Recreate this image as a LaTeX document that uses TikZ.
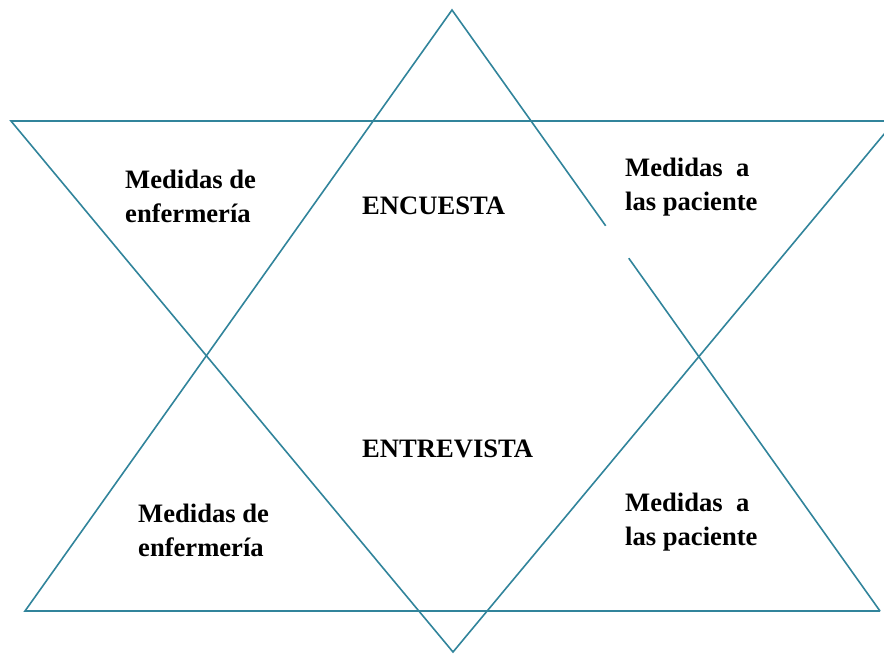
\documentclass[tikz,border=0pt]{standalone}
\usepackage{fontspec}
\setmainfont{Liberation Serif}
\usetikzlibrary{calc}

\definecolor{starline}{HTML}{31849B}

\begin{document}
\begin{tikzpicture}[x=1pt,y=-1pt,
    side/.style={draw=starline,line width=1.6pt},
    label text/.style={anchor=base west,inner sep=0pt,align=left,
        font=\fontsize{26.6}{33.5}\selectfont\bfseries}]
    \clip (0,0) rectangle (884,654);

    % triangle pointing up
    \coordinate (upTop) at (452,10);
    \coordinate (upLeft) at (25,611);
    \coordinate (upRight) at (880,611);
    % triangle pointing down
    \coordinate (downLeft) at (11,121);
    \coordinate (downRight) at (895,121);
    \coordinate (downBottom) at (453,652);

    \draw[side] (upRight) -- (upLeft) -- (upTop) -- ($(upTop)!0.359!(upRight)$);
    \draw[side] ($(upTop)!0.413!(upRight)$) -- (upRight);
    \draw[side] (downLeft) -- (downRight) -- (downBottom) -- cycle;

    % two-line labels sit on the baseline of their last line
    \node[label text] (topLeftText) at (125,222) {Medidas de\\enfermería};
    \node[label text] (encuesta) at (362,214) {ENCUESTA};
    \node[label text] (topRightText) at (625,210) {Medidas~ a\\las paciente};
    \node[label text] (entrevista) at (362,457) {ENTREVISTA};
    \node[label text] (bottomLeftText) at (138,556) {Medidas de\\enfermería};
    \node[label text] (bottomRightText) at (625,545) {Medidas~ a\\las paciente};

    % \draw[red] (0,0) rectangle (884,654);
\end{tikzpicture}
\end{document}
